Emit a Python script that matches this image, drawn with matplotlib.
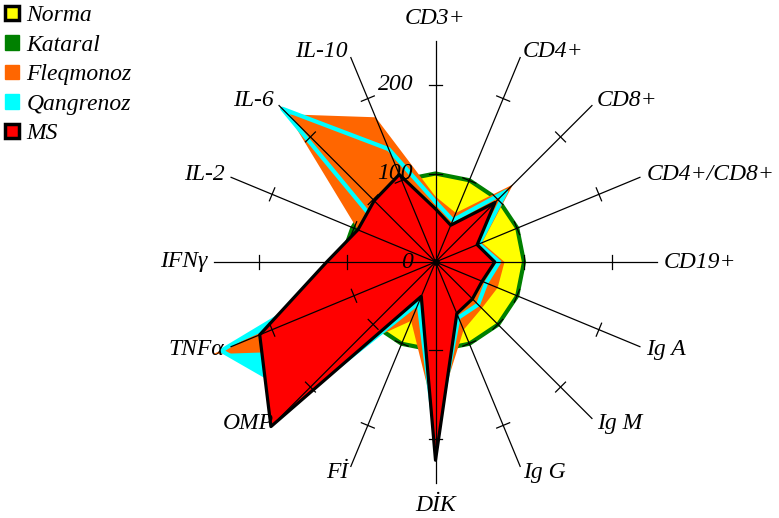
import numpy as np
import matplotlib.pyplot as plt
from matplotlib.patches import Patch

plt.rcParams['font.family'] = ['Liberation Serif', 'DejaVu Serif']

# axes of the radar, clockwise from the top
labels = ['CD3+', 'CD4+', 'CD8+', 'CD4+/CD8+', 'CD19+', 'Ig A', 'Ig M', 'Ig G',
          'DİK', 'Fİ', 'OMP', 'TNFα', 'IFNγ', 'IL-2', 'IL-6', 'IL-10']

# values, % of norm
norma     = [100, 100, 100, 100, 100, 100, 100, 100, 100, 100, 100, 100, 100, 100, 100, 100]
kataral   = [55, 40, 85, 48, 62, 72, 70, 60, 150, 38, 180, 150, 110, 104, 105, 165]
fleqmonoz = [74, 60, 124, 57, 78, 76, 74, 83, 178, 72, 140, 272, 20, 95, 236, 177]
qangrenoz = [68, 51, 113, 53, 72, 62, 68, 68, 198, 50, 215, 262, 75, 50, 245, 138]
ms        = [60, 45, 95, 51, 67, 57, 59, 63, 224, 42, 263, 215, 123, 95, 98, 107]

yellow = '#FFFF00'
green = '#008000'
orange = '#FF6600'
cyan = '#00FFFF'
red = '#FF0000'

n = len(labels)
angles = np.linspace(0, 2 * np.pi, n, endpoint=False)
th = np.append(angles, angles[0])


def closed(v):
    return np.append(v, v[0])


fig = plt.figure(figsize=(7.79, 5.18), dpi=100)
R = 290
px = 0.885 * R  # pixel radius of the polar axes
ax = fig.add_axes([(435.5 - px) / 779, (518 - 262 - px) / 518, 2 * px / 779, 2 * px / 518],
                  projection='polar')
ax.set_theta_zero_location('N')
ax.set_theta_direction(-1)
ax.set_ylim(0, R)
ax.axis('off')

# filled series
ax.fill(th, closed(norma), facecolor=yellow, edgecolor=green, lw=3, zorder=1)
ax.fill(th, closed(qangrenoz), facecolor=cyan, lw=0, zorder=2)
ax.fill(th, closed(kataral), facecolor=green, lw=0, zorder=3)
ax.fill(th, closed(fleqmonoz), facecolor=orange, lw=0, zorder=4)
ax.plot(th, closed(qangrenoz), color=cyan, lw=3, zorder=5)
ax.fill(th, closed(ms), facecolor=red, edgecolor='black', lw=2.3, zorder=6,
        joinstyle='round')

# spokes with tick marks
for a in angles:
    ax.plot([a, a], [0, 250], color='black', lw=0.9, zorder=10)
    for r in (100, 200):
        d = 7 / (0.885 * r)
        ax.plot([a - d, a + d], [r, r], color='black', lw=0.9, zorder=10)
ax.plot(0, 0, 'o', color='black', ms=4, zorder=11)

# radial tick labels
for v in (0, 100, 200):
    ax.annotate(str(v), xy=(0, v), xytext=(-16, 0), textcoords='offset points',
                ha='right', va='center', fontsize=17, style='italic', zorder=12)

# category labels
for a, lab in zip(angles, labels):
    s = np.sin(a)
    c = np.cos(a)
    if abs(s) < 0.1:
        ha = 'center'
        va = 'bottom' if c > 0 else 'top'
        rr = 263
    else:
        ha = 'left' if s > 0 else 'right'
        va = 'center'
        rr = 258
    ax.text(a, rr, lab, ha=ha, va=va, fontsize=17, style='italic', zorder=12)

handles = [
    Patch(facecolor=yellow, edgecolor='black', lw=2.5),
    Patch(facecolor=green, edgecolor=green),
    Patch(facecolor=orange, edgecolor=orange),
    Patch(facecolor=cyan, edgecolor=cyan),
    Patch(facecolor=red, edgecolor='black', lw=2.5),
]
fig.legend(handles, ['Norma', 'Kataral', 'Fleqmonoz', 'Qangrenoz', 'MS'],
           loc='upper left', bbox_to_anchor=(0.005, 0.992), frameon=False,
           prop={'style': 'italic', 'size': 17}, handlelength=0.6, handleheight=0.6,
           handletextpad=0.3, labelspacing=0.36, borderaxespad=0, borderpad=0.05)

fig.savefig('out.png', dpi=100)
